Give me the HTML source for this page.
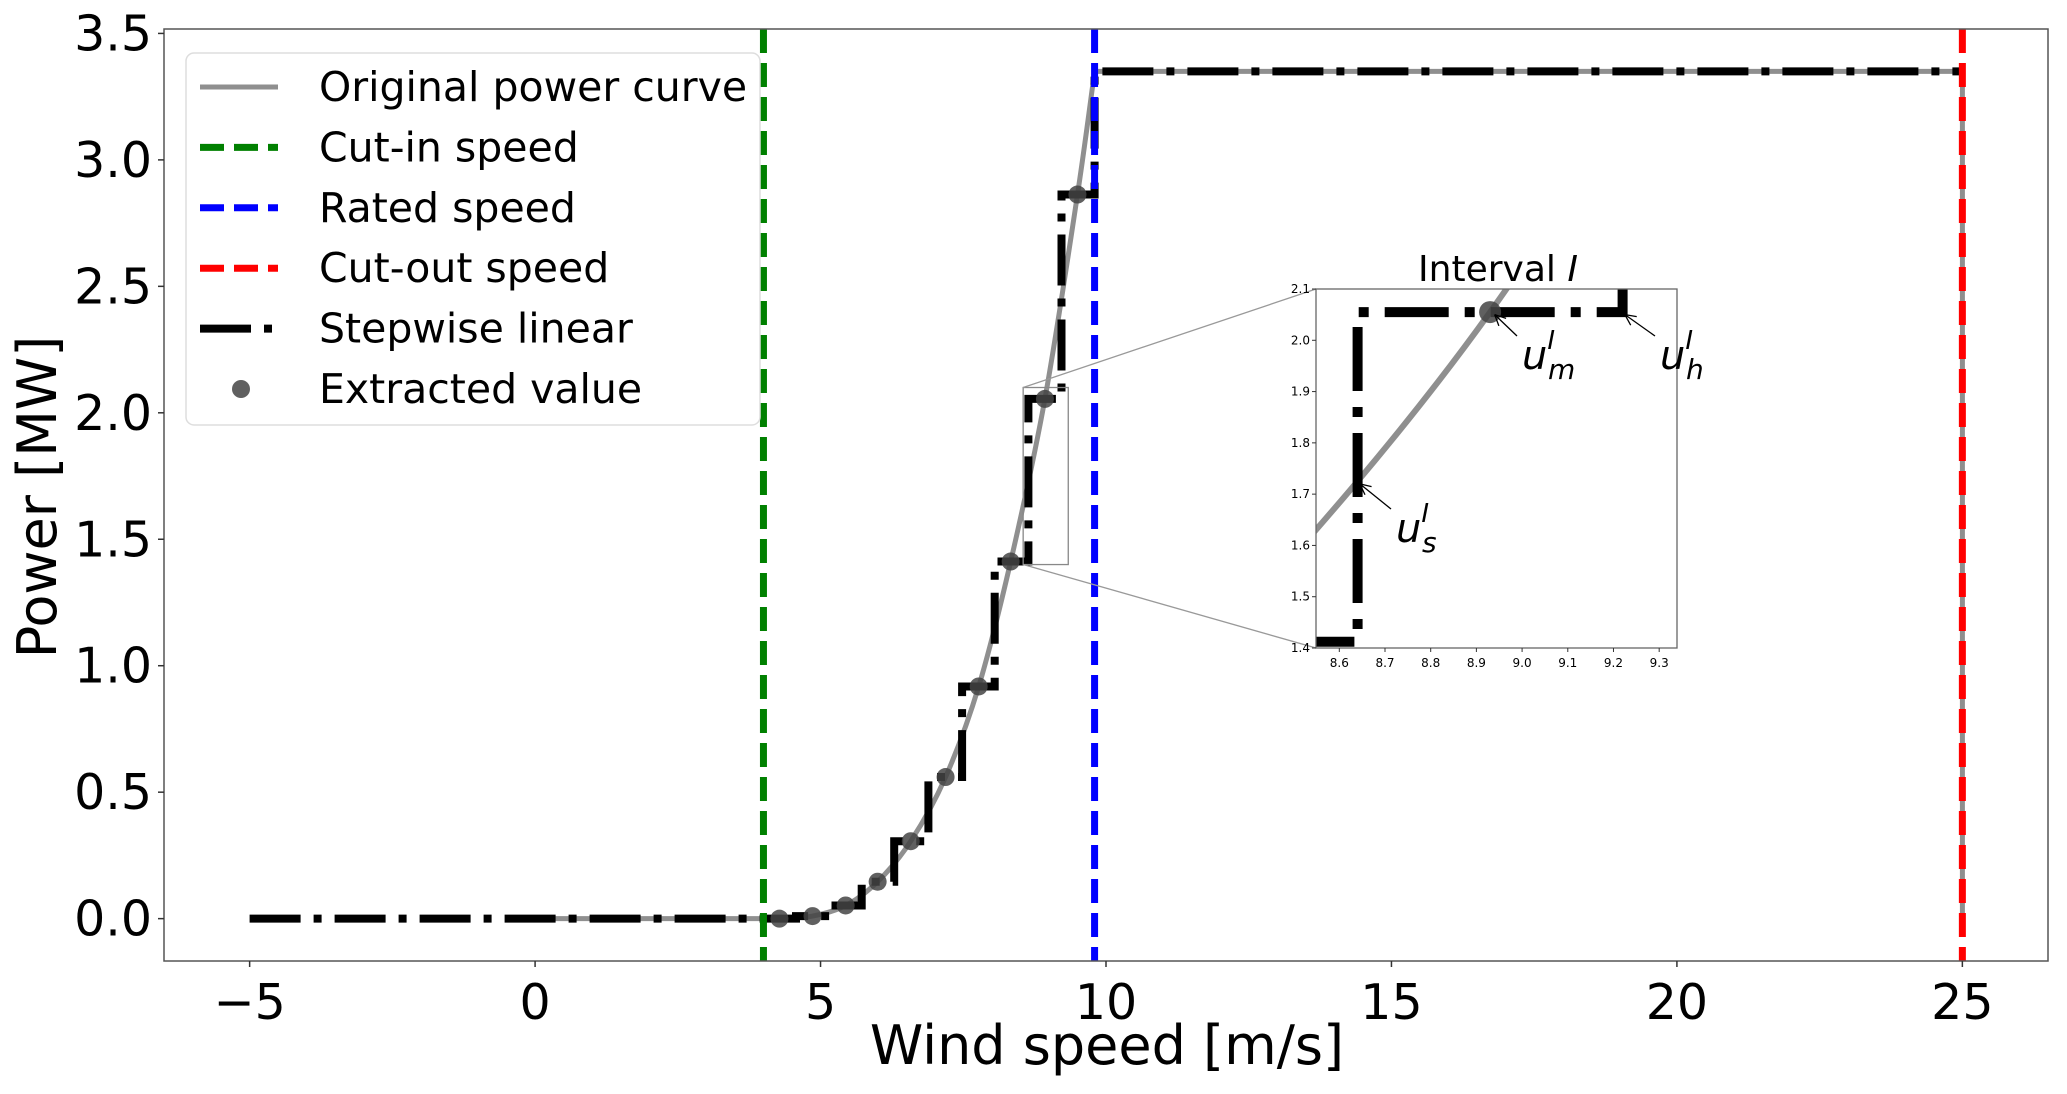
<!DOCTYPE html>
<html><head><meta charset="utf-8"><style>
html,body{margin:0;padding:0;background:#fff;overflow:hidden;width:2067px;height:1094px;}
svg{display:block;font-family:"DejaVu Sans","Liberation Sans",sans-serif;}
</style></head><body>
<svg id="chart" width="2067" height="1094" viewBox="0 0 2067 1094" xmlns="http://www.w3.org/2000/svg"></svg>
<script>
// ---- data ----
const curveSpeeds = [0, 3.5, 4.28, 4.86, 5.44, 6.0, 6.58, 7.19, 7.77, 8.33, 8.93, 9.5, 9.8, 25, 25];
const curvePower  = [0, 0, 0, 0.01, 0.052, 0.146, 0.306, 0.56, 0.918, 1.412, 2.055, 2.863, 3.35, 3.35, 0];
const markerSpeeds = [4.28, 4.86, 5.44, 6.0, 6.58, 7.19, 7.77, 8.33, 8.93, 9.5];
const markerPower  = [0, 0.01, 0.052, 0.146, 0.306, 0.56, 0.918, 1.412, 2.055, 2.863];
const stepEdges = [-5, 4.57, 5.15, 5.72, 6.29, 6.89, 7.48, 8.05, 8.64, 9.22, 9.8, 25];
const stepLevels = [0, 0.01, 0.052, 0.146, 0.306, 0.56, 0.918, 1.412, 2.055, 2.863, 3.35];
const cutIn = 4.0, rated = 9.8, cutOut = 25;
const xTicks = [-5, 0, 5, 10, 15, 20, 25];
const yTicks = [0.0, 0.5, 1.0, 1.5, 2.0, 2.5, 3.0, 3.5];
const insetXTicks = [8.6, 8.7, 8.8, 8.9, 9.0, 9.1, 9.2, 9.3];
const insetYTicks = [1.4, 1.5, 1.6, 1.7, 1.8, 1.9, 2.0, 2.1];

const NS = "http://www.w3.org/2000/svg";
const svg = document.getElementById('chart');
function mk(tag, attrs, parent, text){
  const e = document.createElementNS(NS, tag);
  for (const k in attrs) e.setAttribute(k, attrs[k]);
  if (text !== undefined) e.textContent = text;
  (parent || svg).appendChild(e);
  return e;
}
const AX = {l:164, r:2048, t:29, b:961};
const xmin=-6.5, xmax=26.5, ymin=-0.1675, ymax=3.5175;
const sx = v => AX.l + (v - xmin) / (xmax - xmin) * (AX.r - AX.l);
const sy = v => AX.b - (v - ymin) / (ymax - ymin) * (AX.b - AX.t);
const IN = {l:1316, r:1677, t:289, b:648};
const ixmin=8.549, ixmax=9.339, iymin=1.4, iymax=2.1;
const ix = v => IN.l + (v - ixmin) / (ixmax - ixmin) * (IN.r - IN.l);
const iy = v => IN.b - (v - iymin) / (iymax - iymin) * (IN.b - IN.t);

function clip(id, box){
  const d = mk('defs', {});
  const c = mk('clipPath', {id:id}, d);
  mk('rect', {x:box.l, y:box.t, width:box.r-box.l, height:box.b-box.t}, c);
}
clip('mainclip', AX); clip('insetclip', IN);

function curvePath(fx, fy){
  const P = curveSpeeds.map((s,i)=>[fx(s), fy(curvePower[i])]);
  const inS = i => curveSpeeds[i] >= 4.28 && curveSpeeds[i] <= 9.8;
  let d = 'M'+P[0][0].toFixed(1)+' '+P[0][1].toFixed(1);
  for (let i=0;i<P.length-1;i++){
    const smooth = inS(i) && inS(i+1);
    if (!smooth){ d += ' L'+P[i+1][0].toFixed(1)+' '+P[i+1][1].toFixed(1); continue; }
    const p1 = P[i], p2 = P[i+1];
    const p0 = (i>0 && inS(i-1)) ? P[i-1] : p1;
    const p3 = (i+2<P.length && inS(i+2)) ? P[i+2] : p2;
    const c1 = [p1[0]+(p2[0]-p0[0])/6, p1[1]+(p2[1]-p0[1])/6];
    const c2 = [p2[0]-(p3[0]-p1[0])/6, p2[1]-(p3[1]-p1[1])/6];
    d += ' C'+c1[0].toFixed(1)+' '+c1[1].toFixed(1)+' '+c2[0].toFixed(1)+' '+c2[1].toFixed(1)+' '+p2[0].toFixed(1)+' '+p2[1].toFixed(1);
  }
  return d;
}

function drawSeries(g, fx, fy, lw, dash, mr){
  const cv = mk('path', {d:curvePath(fx, fy), fill:'none', stroke:'#8f8f8f', 'stroke-width':lw.curve}, g);
  
  
  let sd = '';
  for (let i=0;i<stepLevels.length;i++){
    const x0 = fx(stepEdges[i]), x1 = fx(stepEdges[i+1]);
    const y = fy(stepLevels[i]);
    sd += (i? 'L':'M') + x0.toFixed(1)+' '+y.toFixed(1)+' L'+x1.toFixed(1)+' '+y.toFixed(1)+' ';
  }
  const st = mk('path', {d:sd, fill:'none', stroke:'#000', 'stroke-width':lw.step, 'stroke-dasharray':dash, 'stroke-linejoin':'miter'}, g);
  
  
  markerSpeeds.forEach((s,i)=>{
    const c = mk('circle', {cx:fx(s), cy:fy(markerPower[i]), r:mr, fill:'#444', 'fill-opacity':0.85}, g);
    
    
  });
}

const gMain = mk('g', {'clip-path':'url(#mainclip)'});


drawSeries(gMain, sx, sy, {curve:5, step:8}, '51 13 8 13', 9);
[[cutIn,'#008000','cut-in-speed-line'],[rated,'#0000ff','rated-speed-line'],[cutOut,'#ff0000','cut-out-speed-line']].forEach(([v,c,n])=>{
  const l = mk('line', {x1:sx(v), x2:sx(v), y1:AX.t, y2:AX.b, stroke:c, 'stroke-width':7, 'stroke-dasharray':'24 10'}, gMain);
  
  
});
const zr = mk('rect', {x:sx(ixmin), y:sy(iymax), width:sx(ixmax)-sx(ixmin), height:sy(iymin)-sy(iymax), fill:'none', stroke:'#888', 'stroke-width':1.3});


mk('line', {x1:sx(ixmin), y1:sy(iymax), x2:IN.l, y2:IN.t, stroke:'#999', 'stroke-width':1.3});
mk('line', {x1:sx(ixmin), y1:sy(iymin), x2:IN.l, y2:IN.b, stroke:'#999', 'stroke-width':1.3});

const sp = mk('rect', {x:AX.l, y:AX.t, width:AX.r-AX.l, height:AX.b-AX.t, fill:'none', stroke:'#555', 'stroke-width':1.5});


xTicks.forEach(t=>{
  mk('line', {x1:sx(t), x2:sx(t), y1:AX.b, y2:AX.b+6, stroke:'#333', 'stroke-width':1.5});
  const tx = mk('text', {x:sx(t), y:AX.b+58, 'text-anchor':'middle', 'font-size':49, fill:'#000'}, undefined, t<0 ? '\u2212'+Math.abs(t) : String(t));
  
  
});
yTicks.forEach(t=>{
  mk('line', {x1:AX.l-6, x2:AX.l, y1:sy(t), y2:sy(t), stroke:'#333', 'stroke-width':1.5});
  const tx = mk('text', {x:AX.l-12, y:sy(t)+17, 'text-anchor':'end', 'font-size':49, fill:'#000'}, undefined, t.toFixed(1));
  
  
});
const xt = mk('text', {x:1107, y:1064, 'text-anchor':'middle', 'font-size':54, fill:'#000'}, undefined, 'Wind speed [m/s]');


const yt = mk('text', {x:0, y:0, 'text-anchor':'middle', 'font-size':54, fill:'#000', transform:'translate(56,497) rotate(-90)'}, undefined, 'Power [MW]');



const lg = mk('g', {});


mk('rect', {x:186, y:53, width:574, height:372, rx:8, fill:'#fff', 'fill-opacity':0.85, stroke:'#ddd', 'stroke-width':1.5}, lg);
const entries = [
  ['Original power curve', 'curve'], ['Cut-in speed', '#008000'], ['Rated speed', '#0000ff'],
  ['Cut-out speed', '#ff0000'], ['Stepwise linear', 'step'], ['Extracted value', 'marker']];
entries.forEach(([label, kind], i)=>{
  const y = 87 + i*60.4;
  const e = mk('g', {}, lg);
  
  
  if (kind==='curve') mk('line', {x1:200, x2:278, y1:y, y2:y, stroke:'#8f8f8f', 'stroke-width':5}, e);
  else if (kind==='step') mk('line', {x1:200, x2:278, y1:y, y2:y, stroke:'#000', 'stroke-width':8, 'stroke-dasharray':'51 13 8 13'}, e);
  else if (kind==='marker') mk('circle', {cx:241, cy:y, r:9, fill:'#444', 'fill-opacity':0.85}, e);
  else mk('line', {x1:200, x2:278, y1:y, y2:y, stroke:kind, 'stroke-width':7, 'stroke-dasharray':'24 10'}, e);
  mk('text', {x:319, y:y+14, 'font-size':41, fill:'#000'}, e, label);
});

const gIn = mk('g', {});


mk('rect', {x:IN.l, y:IN.t, width:IN.r-IN.l, height:IN.b-IN.t, fill:'#fff'}, gIn);
const gInClip = mk('g', {'clip-path':'url(#insetclip)'}, gIn);
drawSeries(gInClip, ix, iy, {curve:6, step:10}, '64 16 10 16', 11);
mk('rect', {x:IN.l, y:IN.t, width:IN.r-IN.l, height:IN.b-IN.t, fill:'none', stroke:'#666', 'stroke-width':1.3}, gIn);
insetXTicks.forEach(t=>{
  mk('line', {x1:ix(t), x2:ix(t), y1:IN.b, y2:IN.b+4, stroke:'#333', 'stroke-width':1}, gIn);
  const tx = mk('text', {x:ix(t), y:IN.b+19, 'text-anchor':'middle', 'font-size':12, fill:'#000'}, gIn, t.toFixed(1));
  
  
});
insetYTicks.forEach(t=>{
  mk('line', {x1:IN.l-4, x2:IN.l, y1:iy(t), y2:iy(t), stroke:'#333', 'stroke-width':1}, gIn);
  const tx = mk('text', {x:IN.l-6, y:iy(t)+4, 'text-anchor':'end', 'font-size':12, fill:'#000'}, gIn, t.toFixed(1));
  
  
});
const it = mk('text', {x:1498, y:281, 'text-anchor':'middle', 'font-size':36, fill:'#000'}, gIn);


it.appendChild(document.createTextNode('Interval '));
mk('tspan', {'font-style':'italic'}, it, 'I');

function annot(name, sub, tipX, tipY, txX, txY){
  const g = mk('g', {}, gIn);
  
  
  mk('line', {x1:txX-5, y1:txY-33, x2:tipX, y2:tipY, stroke:'#000', 'stroke-width':1.3}, g);
  const ang = Math.atan2(txY-33-tipY, txX-5-tipX);
  [0.45,-0.45].forEach(a=>{
    mk('line', {x1:tipX, y1:tipY, x2:tipX+12*Math.cos(ang+a), y2:tipY+12*Math.sin(ang+a), stroke:'#000', 'stroke-width':1.3}, g);
  });
  const t = mk('text', {x:txX, y:txY, 'font-size':40, 'font-style':'italic', fill:'#000'}, g);
  t.appendChild(document.createTextNode('u'));
  mk('tspan', {dy:-20, 'font-size':26}, t, 'I');
  mk('tspan', {dx:-7, dy:30, 'font-size':28}, t, sub);
}
annot('annotation-u-s', 's', ix(8.645), iy(1.72), 1396, 542);
annot('annotation-u-m', 'm', ix(8.94), iy(2.05), 1522, 369);
annot('annotation-u-h', 'h', ix(9.225), iy(2.05), 1660, 369);
</script>
</body></html>
